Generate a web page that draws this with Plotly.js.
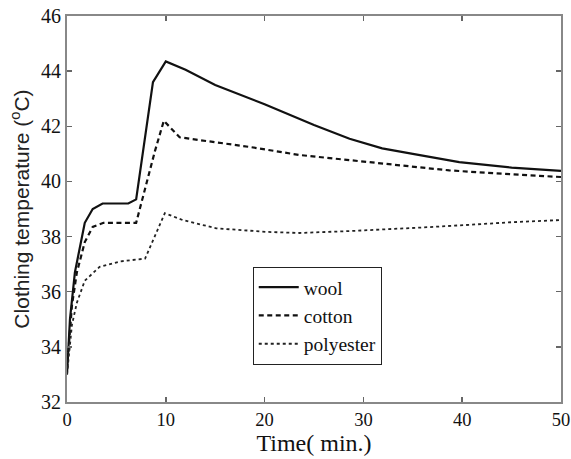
<!DOCTYPE html>
<html>
<head>
<meta charset="utf-8">
<script src="https://cdn.plot.ly/plotly-3.0.1.min.js"></script>
<style>html,body{margin:0;padding:0;background:#fff;}#chart{width:571px;height:459px;}</style>
</head>
<body>
<div id="chart"></div>
<script>
const woolT = [0, 0.3, 0.8, 1.8, 2.6, 3.6, 6.2, 7.0, 8.7, 10.0, 12, 15, 20, 25, 28.6, 31.9, 35, 39.7, 45, 50];
const woolY = [33.0, 35.0, 36.7, 38.5, 39.0, 39.2, 39.2, 39.35, 43.6, 44.35, 44.05, 43.5, 42.8, 42.05, 41.55, 41.2, 41.0, 40.7, 40.5, 40.38];

const cottonT = [0, 0.5, 1.0, 1.8, 2.6, 3.7, 7.0, 8.9, 9.8, 11.4, 13.4, 18.5, 23.5, 28.6, 33, 38.7, 44, 50];
const cottonY = [33.2, 35.5, 36.7, 37.8, 38.35, 38.5, 38.5, 41.1, 42.2, 41.6, 41.5, 41.25, 40.96, 40.78, 40.6, 40.4, 40.28, 40.16];

const polyT = [0, 0.5, 1.0, 1.8, 3.3, 5.4, 7.9, 9.9, 11.7, 15.1, 20.2, 23.5, 28.6, 31.9, 36, 40.4, 45, 50];
const polyY = [33.0, 34.8, 35.6, 36.4, 36.9, 37.1, 37.2, 38.85, 38.6, 38.3, 38.17, 38.13, 38.2, 38.27, 38.33, 38.42, 38.52, 38.6];

const seriesNames = ['wool', 'cotton', 'polyester'];
const xTicks = [0, 10, 20, 30, 40, 50];
const yTicks = [32, 34, 36, 38, 40, 42, 44, 46];

const traces = [
  {x: woolT, y: woolY, name: seriesNames[0], mode: 'lines', line: {color: '#111', width: 2.2, dash: 'solid'}},
  {x: cottonT, y: cottonY, name: seriesNames[1], mode: 'lines', line: {color: '#111', width: 2.2, dash: '5px,3.5px'}},
  {x: polyT, y: polyY, name: seriesNames[2], mode: 'lines', line: {color: '#222', width: 1.8, dash: 'dot'}}
];

const axisCommon = {
  showgrid: false, zeroline: false, showline: true, linecolor: '#888', linewidth: 2,
  mirror: 'ticks', ticks: 'inside', ticklen: 5, tickcolor: '#666', tickwidth: 1.5
};

const layout = {
  width: 571, height: 459,
  margin: {l: 67, r: 10, t: 16, b: 57},
  paper_bgcolor: '#fff', plot_bgcolor: '#fff',
  showlegend: true,
  legend: {
    x: 0.376, y: 0.35, xanchor: 'left', yanchor: 'top',
    bordercolor: '#222', borderwidth: 1, bgcolor: '#fff',
    font: {family: 'Liberation Serif', size: 19.5, color: '#111'},
    tracegroupgap: 0, itemwidth: 40
  },
  xaxis: Object.assign({}, axisCommon, {
    range: [0, 50], tickmode: 'array', tickvals: xTicks,
    tickfont: {family: 'Liberation Serif', size: 18.5, color: '#111'},
    title: {text: 'Time( min.)', font: {family: 'Liberation Serif', size: 24, color: '#111'}, standoff: 2}
  }),
  yaxis: Object.assign({}, axisCommon, {
    range: [32, 46], tickmode: 'array', tickvals: yTicks,
    tickfont: {family: 'Liberation Serif', size: 20, color: '#111'},
    title: {text: 'Clothing temperature (<sup>o</sup>C)', font: {family: 'Liberation Sans', size: 21, color: '#222'}, standoff: 6}
  })
};

Plotly.newPlot('chart', traces, layout, {displayModeBar: false, staticPlot: true});
</script>
</body>
</html>
